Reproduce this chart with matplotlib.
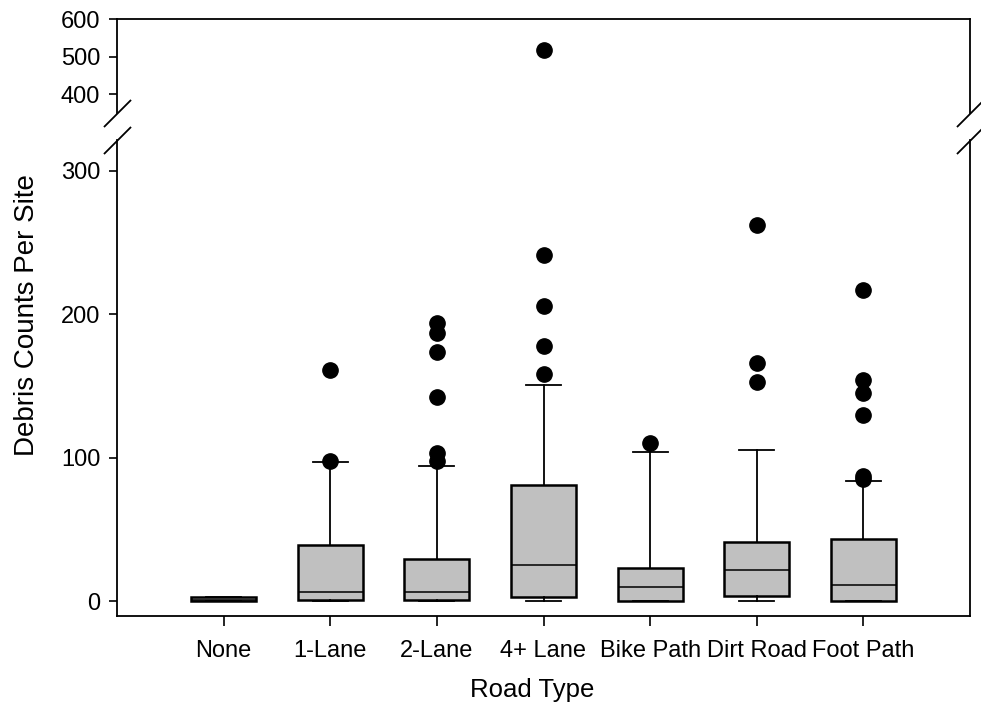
import matplotlib
matplotlib.use("Agg")
import matplotlib.pyplot as plt

plt.rcParams.update({
    "font.family": ["Liberation Sans", "DejaVu Sans"],
    "axes.linewidth": 1.3,
})

# Data
categories = ["None", "1-Lane", "2-Lane", "4+ Lane", "Bike Path", "Dirt Road", "Foot Path"]
q1 = [0, 1, 1, 3, 0, 3.5, 0]
median = [0.5, 6, 6, 25, 9.5, 22, 11]
q3 = [3, 39, 29, 81, 23, 41, 43]
whisker_low = [0, 0, 0, 0, 0, 0, 0]
whisker_high = [3, 97, 94, 151, 104, 105, 84]
outliers = [
    [],
    [98, 161],
    [98, 103, 142, 174, 187, 194],
    [158, 178, 206, 241, 517],
    [110],
    [153, 166, 262],
    [85, 87, 130, 145, 154, 217],
]

lower_ticks = [0, 100, 200, 300]
upper_ticks = [400, 500, 600]

BOX_FILL = "#C0C0C0"

stats = [
    dict(label=c, q1=a, med=m, q3=b, whislo=lo, whishi=hi, fliers=f)
    for c, a, m, b, lo, hi, f in zip(categories, q1, median, q3,
                                    whisker_low, whisker_high, outliers)
]
positions = list(range(1, len(categories) + 1))

W, H = 981, 719
fig = plt.figure(figsize=(W / 100, H / 100), dpi=100)
left, right = 117 / W, 970 / W
ax_lo = fig.add_axes([left, 1 - 616 / H, right - left, (616 - 140) / H])
ax_up = fig.add_axes([left, 1 - 113 / H, right - left, (113 - 19) / H], sharex=ax_lo)

for ax in (ax_lo, ax_up):
    ax.bxp(stats, positions=positions, widths=0.61, capwidths=0.33,
           patch_artist=True,
           boxprops=dict(facecolor=BOX_FILL, edgecolor="black", linewidth=1.8),
           medianprops=dict(color="black", linewidth=1.1),
           whiskerprops=dict(color="black", linewidth=1.3),
           capprops=dict(color="black", linewidth=1.3),
           flierprops=dict(marker="o", markerfacecolor="black",
                           markeredgecolor="black", markersize=11))
    ax.tick_params(axis="y", which="both", direction="out", length=6,
                   width=1.2, labelsize=17, pad=6, right=False)

ax_lo.set_ylim(-10.4, 321.5)
ax_up.set_ylim(350.5, 600)
ax_lo.set_yticks(lower_ticks)
ax_up.set_yticks(upper_ticks)

ax_lo.spines["top"].set_visible(False)
ax_up.spines["bottom"].set_visible(False)

ax_lo.set_xlim(0, 8)
ax_lo.set_xticks(positions)
ax_lo.set_xticklabels(categories)
ax_lo.tick_params(axis="x", direction="out", length=7, width=1.2,
                  labelsize=17, pad=10, top=False)
ax_up.tick_params(axis="x", which="both", bottom=False, top=False,
                  labelbottom=False)

# break marks on both sides of the axis gap
slash = dict(marker=[(-1, -1), (1, 1)], markersize=19.5, linestyle="none",
             color="black", mec="black", mew=1.3, clip_on=False)
ax_up.plot([0, 1], [0, 0], transform=ax_up.transAxes, **slash)
ax_lo.plot([0, 1], [1, 1], transform=ax_lo.transAxes, **slash)

ax_lo.set_xlabel("Road Type", fontsize=18.5)
ax_lo.xaxis.set_label_coords(0.487, -0.13)
fig.text(27 / W, 1 - 315 / H, "Debris Counts Per Site", rotation=90,
         ha="center", va="center", fontsize=20)

fig.savefig("out.png", dpi=100)
